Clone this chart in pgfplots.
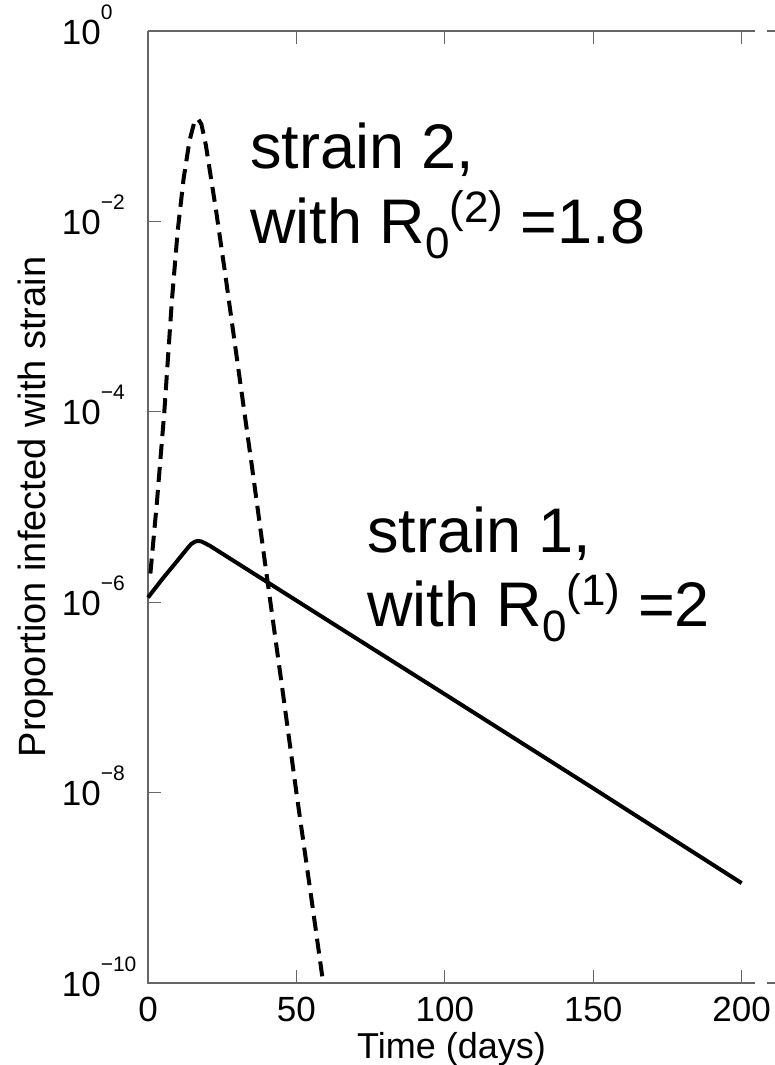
\documentclass[border=0pt]{standalone}
\usepackage{fontspec}
\setmainfont{Liberation Sans}
\usepackage{pgfplots}
\pgfplotsset{compat=1.18}
\newcommand{\tl}[1]{10\rlap{\raisebox{25pt}{\fontsize{21}{21}\selectfont #1}}}
\newcommand{\ann}{\fontsize{63}{63}\selectfont}
\newcommand{\sub}[1]{\raisebox{-15pt}{\fontsize{44}{44}\selectfont #1}}
\newcommand{\sups}[1]{\raisebox{21pt}{\fontsize{44}{44}\selectfont #1}}
\begin{document}
\begin{tikzpicture}
\begin{axis}[name=ax, scale only axis, width=607pt, height=952pt,
  ymode=log, xmin=0, xmax=204.5, ymin=1e-10, ymax=1,
  clip=false,
  xtick={0,50,100,150,200}, xticklabels={0,50,100,150,200},
  ytick={1e-10,1e-8,1e-6,1e-4,1e-2,1},
  yticklabels={\tl{−10},\tl{−8},\tl{−6},\tl{−4},\tl{−2},\tl{0}},
  yminorticks=false, xminorticks=false,
  tick align=inside, xtick pos=both, ytick pos=left,
  major tick length=13pt,
  tick style={black!60, line width=1.2pt},
  axis line style={draw=none},
  ticklabel style={font=\fontsize{35}{35}\selectfont},
  xticklabel style={anchor=base, inner sep=0pt, yshift=-38pt},
  yticklabel style={anchor=base east, inner sep=0pt, xshift=-47pt, yshift=-13pt},
  xlabel={Time (days)},
  ylabel={Proportion infected with strain},
  every axis x label/.style={at={(axis description cs:0.5,-0.0795)}, anchor=base, font=\fontsize{36}{36}\selectfont},
  every axis y label/.style={at={(axis description cs:-0.1845,0.5)}, anchor=center, rotate=90, font=\fontsize{38}{38}\selectfont},
]
\draw[black!60, line width=1.2pt] (rel axis cs:0,1) -- (rel axis cs:0,0) -- (rel axis cs:1,0);
\draw[black!60, line width=1.2pt] (rel axis cs:0,1) -- (rel axis cs:1,1);
\draw[black!60, line width=1.2pt] (rel axis cs:1.0198,1) -- (rel axis cs:1.04,1);
\draw[black!60, line width=1.2pt] (rel axis cs:1.0198,0) -- (rel axis cs:1.04,0);

% strain 2 (dashed)
\addplot[black, line width=4pt, dash pattern=on 15pt off 8pt, line join=round] coordinates {
(0.8,2.0e-6) (3,1.12e-5) (5.5,1.0e-4) (8,1.41e-3) (10,7.94e-3) (12,2.82e-2)
(14,7.08e-2) (15.5,0.107) (16.8,0.120) (18,0.105) (19.5,6.31e-2) (21,3.16e-2)
(23,1.26e-2) (26,2.82e-3) (30,3.55e-4) (35,2.69e-5) (40,1.91e-6) (45,1.41e-7)
(50,1.0e-8) (55,7.94e-10) (58.8,1.12e-10)
};
% strain 1 (solid)
\addplot[black, line width=4pt, line join=round] coordinates {
(0,1.12e-6) (5,1.78e-6) (10,2.75e-6) (13,3.59e-6) (14.5,4.07e-6) (15.8,4.32e-6) (16.8,4.40e-6)
(18,4.345e-6) (19.5,4.12e-6) (21,3.89e-6) (23,3.55e-6) (25,3.24e-6) (40,1.64e-6) (60,6.61e-7)
(100,1.08e-7) (150,1.11e-8) (200,1.12e-9)
};

\node[anchor=base west, inner sep=0pt, font=\ann] at (rel axis cs:0.168,0.856) {strain 2,};
\node[anchor=base west, inner sep=0pt, font=\ann] at (rel axis cs:0.168,0.777) {with R\sub{0}\sups{(2)} =1.8};
\node[anchor=base west, inner sep=0pt, font=\ann] at (rel axis cs:0.361,0.4527) {strain 1,};
\node[anchor=base west, inner sep=0pt, font=\ann] at (rel axis cs:0.361,0.374) {with R\sub{0}\sups{(1)} =2};
\end{axis}
\pgfresetboundingbox
\useasboundingbox ([xshift=-148pt,yshift=-82pt]ax.south west) rectangle ([xshift=626pt,yshift=983pt]ax.south west);
\end{tikzpicture}
\end{document}
